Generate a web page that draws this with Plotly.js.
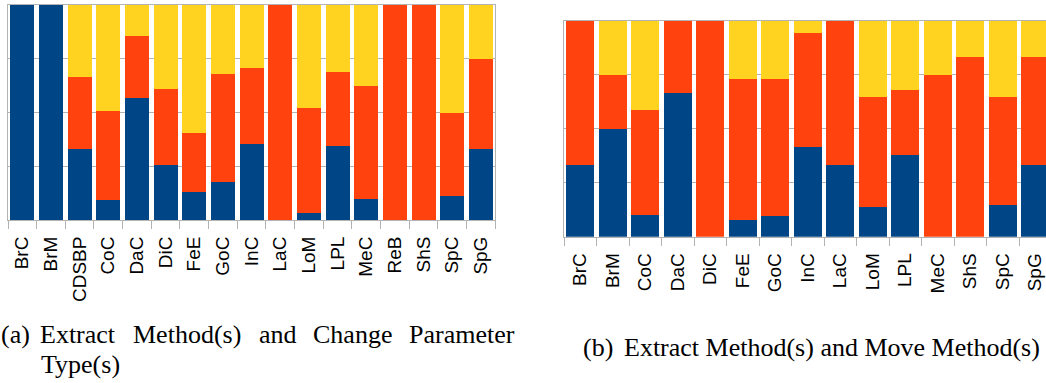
<!DOCTYPE html>
<html>
<head>
<meta charset="utf-8">
<script src="https://cdn.plot.ly/plotly-3.0.1.min.js"></script>
<style>
html,body{margin:0;padding:0;overflow:hidden;background:#fff;width:1046px;height:383px;}
#wrap{width:1046px;height:383px;overflow:hidden;}
#chart{width:1053px;height:383px;}
</style>
</head>
<body>
<div id="wrap"><div id="chart"></div></div>
<script>
// ---- Data: (a) Extract Method(s) and Change Parameter Type(s)
var catsA = ['BrC','BrM','CDSBP','CoC','DaC','DiC','FeE','GoC','InC','LaC','LoM','LPL','MeC','ReB','ShS','SpC','SpG'];
var blueA   = [1, 1, 0.330, 0.093, 0.568, 0.257, 0.130, 0.176, 0.353, 0, 0.034, 0.345, 0.098, 0, 0, 0.113, 0.331];
var orangeA = [0, 0, 0.334, 0.413, 0.288, 0.351, 0.274, 0.503, 0.353, 1, 0.488, 0.344, 0.526, 1, 1, 0.385, 0.418];
var yellowA = [0, 0, 0.336, 0.494, 0.144, 0.392, 0.596, 0.321, 0.294, 0, 0.478, 0.311, 0.376, 0, 0, 0.502, 0.251];

// ---- Data: (b) Extract Method(s) and Move Method(s)
var catsB = ['BrC','BrM','CoC','DaC','DiC','FeE','GoC','InC','LaC','LoM','LPL','MeC','ShS','SpC','SpG'];
var blueB   = [0.333, 0.500, 0.100, 0.665, 0, 0.079, 0.097, 0.417, 0.333, 0.139, 0.380, 0, 0, 0.148, 0.333];
var orangeB = [0.667, 0.250, 0.488, 0.335, 1, 0.652, 0.634, 0.528, 0.667, 0.509, 0.301, 0.748, 0.833, 0.500, 0.500];
var yellowB = [0, 0.250, 0.412, 0, 0, 0.269, 0.269, 0.056, 0, 0.352, 0.319, 0.252, 0.167, 0.352, 0.167];

var captionA1 = ['(a)', 'Extract', 'Method(s)', 'and', 'Change', 'Parameter'];
var captionA2 = 'Type(s)';
var captionB = ['(b)', 'Extract Method(s) and Move Method(s)'];

var BLUE = '#004586', ORANGE = '#ff420e', YELLOW = '#ffd320', GRID = '#b3b3b3';
var W = 1053, H = 383;
var SANS = "'Liberation Sans', Arial, sans-serif";
var SERIF = "'Liberation Serif', 'Times New Roman', Times, serif";

function bar(x, y, color, xa, ya, w) {
  return {type: 'bar', x: x, y: y, xaxis: xa, yaxis: ya, width: w,
          marker: {color: color, line: {width: 0}}, hoverinfo: 'x+y', showlegend: false};
}

var data = [
  bar(catsA, blueA, BLUE, 'x', 'y', 0.84),
  bar(catsA, orangeA, ORANGE, 'x', 'y', 0.84),
  bar(catsA, yellowA, YELLOW, 'x', 'y', 0.84),
  bar(catsB, blueB, BLUE, 'x2', 'y2', 0.86),
  bar(catsB, orangeB, ORANGE, 'x2', 'y2', 0.86),
  bar(catsB, yellowB, YELLOW, 'x2', 'y2', 0.86)
];

function xax(domain, n) {
  return {domain: domain, type: 'category', range: [-0.5, n - 0.5],
          showline: true, linecolor: GRID, linewidth: 1, mirror: true,
          ticks: 'outside', tickson: 'boundaries', ticklen: 8, tickcolor: GRID, tickwidth: 1,
          ticklabelstandoff: 8,
          tickangle: -90, tickfont: {family: SANS, size: 19, color: '#000'},
          showgrid: false, fixedrange: true};
}
function yax(domain, anchor) {
  return {domain: domain, anchor: anchor, range: [0, 1], tickvals: [0, 0.25, 0.5, 0.75, 1],
          showticklabels: false, ticks: '', showgrid: true, gridcolor: GRID, gridwidth: 1,
          zeroline: false, showline: true, linecolor: GRID, linewidth: 1, mirror: true, fixedrange: true};
}

var capFont = {family: SERIF, size: 26, color: '#000'};
var annotations = [];
var a1x = [0, 39, 132, 258, 312, 408];
for (var i = 0; i < captionA1.length; i++) {
  annotations.push({text: captionA1[i], xref: 'paper', yref: 'paper', x: a1x[i] / W, y: (H - 350) / H,
    xanchor: 'left', yanchor: 'bottom', showarrow: false, font: capFont, borderpad: 0});
}
annotations.push({text: captionA2, xref: 'paper', yref: 'paper', x: 40 / W, y: (H - 380) / H,
  xanchor: 'left', yanchor: 'bottom', showarrow: false, font: capFont, borderpad: 0});
var bx = [581.5, 622.5];
for (var j = 0; j < captionB.length; j++) {
  annotations.push({text: captionB[j], xref: 'paper', yref: 'paper', x: bx[j] / W, y: (H - 363) / H,
    xanchor: 'left', yanchor: 'bottom', showarrow: false, font: capFont, borderpad: 0});
}

var layout = {
  width: W, height: H, margin: {l: 0, r: 0, t: 0, b: 0},
  paper_bgcolor: '#fff', plot_bgcolor: '#fff',
  barmode: 'stack', showlegend: false,
  xaxis: xax([8 / W, 495.3 / W], catsA.length),
  yaxis: yax([163 / H, 378 / H], 'x'),
  xaxis2: Object.assign(xax([564 / W, 1051.5 / W], catsB.length), {anchor: 'y2'}),
  yaxis2: yax([146.3 / H, 362.3 / H], 'x2'),
  annotations: annotations
};
layout.xaxis.anchor = 'y';

Plotly.newPlot('chart', data, layout, {displayModeBar: false, staticPlot: true});
</script>
</body>
</html>
